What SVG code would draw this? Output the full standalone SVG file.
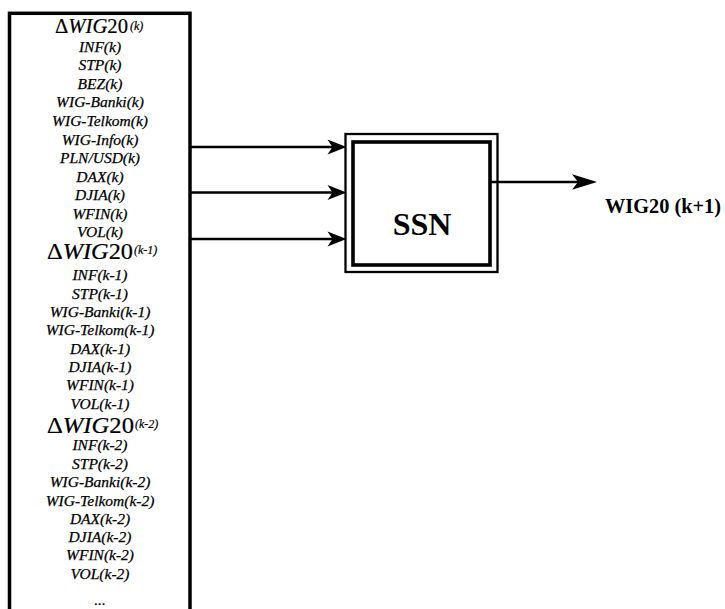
<svg xmlns="http://www.w3.org/2000/svg" width="725" height="609" viewBox="0 0 725 609">
<style>
.v{font-family:"Liberation Serif","Times New Roman",serif;font-style:italic;font-size:15.5px;fill:#000;stroke:#000;stroke-width:0.25;text-anchor:middle}
.d{font-family:"Liberation Serif","Times New Roman",serif;fill:#000;stroke:#000;stroke-width:0.2}
.i{font-style:italic}
.sup{font-family:"Liberation Serif","Times New Roman",serif;font-style:italic;fill:#000;stroke:#000;stroke-width:0.2}
.b{font-family:"Liberation Serif","Times New Roman",serif;font-weight:bold;fill:#000}
.ln{stroke:#000;stroke-width:2.6;fill:none}
.ah{fill:#000;stroke:none}
</style>
<rect width="725" height="609" fill="#fff"/>
<g id="inputs">
<rect x="9.5" y="13.3" width="180.5" height="640" fill="#fff" stroke="#000" stroke-width="3.5"/>
<text class="d" x="55" y="33" font-size="20" textLength="73" lengthAdjust="spacingAndGlyphs">Δ<tspan class="i">WIG</tspan>20</text>
<text class="sup" x="130" y="30" font-size="12">(k)</text>
<text class="v" x="100" y="51.7">INF(k)</text>
<text class="v" x="100" y="70">STP(k)</text>
<text class="v" x="100" y="88.5">BEZ(k)</text>
<text class="v" x="100" y="107">WIG-Banki(k)</text>
<text class="v" x="100" y="126">WIG-Telkom(k)</text>
<text class="v" x="100" y="145">WIG-Info(k)</text>
<text class="v" x="100" y="163">PLN/USD(k)</text>
<text class="v" x="100" y="181.5">DAX(k)</text>
<text class="v" x="100" y="200">DJIA(k)</text>
<text class="v" x="100" y="218.5">WFIN(k)</text>
<text class="v" x="100" y="237">VOL(k)</text>
<text class="d" x="47" y="259" font-size="23" textLength="86" lengthAdjust="spacingAndGlyphs">Δ<tspan class="i">WIG</tspan>20</text>
<text class="sup" x="134" y="254" font-size="12">(k-1)</text>
<text class="v" x="100" y="280">INF(k-1)</text>
<text class="v" x="100" y="298.5">STP(k-1)</text>
<text class="v" x="100" y="316.5">WIG-Banki(k-1)</text>
<text class="v" x="100" y="335">WIG-Telkom(k-1)</text>
<text class="v" x="100" y="354">DAX(k-1)</text>
<text class="v" x="100" y="372">DJIA(k-1)</text>
<text class="v" x="100" y="390">WFIN(k-1)</text>
<text class="v" x="100" y="408.5">VOL(k-1)</text>
<text class="d" x="47" y="433" font-size="23" textLength="87" lengthAdjust="spacingAndGlyphs">Δ<tspan class="i">WIG</tspan>20</text>
<text class="sup" x="135" y="428" font-size="12">(k-2)</text>
<text class="v" x="100" y="450">INF(k-2)</text>
<text class="v" x="100" y="468.5">STP(k-2)</text>
<text class="v" x="100" y="487">WIG-Banki(k-2)</text>
<text class="v" x="100" y="505.5">WIG-Telkom(k-2)</text>
<text class="v" x="100" y="524">DAX(k-2)</text>
<text class="v" x="100" y="542">DJIA(k-2)</text>
<text class="v" x="100" y="560">WFIN(k-2)</text>
<text class="v" x="100" y="578.5">VOL(k-2)</text>
<text class="v" x="100" y="605" font-style="normal">...</text>
</g>
<g id="ssn">
<rect x="345.5" y="134" width="152" height="138" fill="#fff" stroke="#000" stroke-width="2.3"/>
<rect x="353" y="142" width="137" height="123" fill="#fff" stroke="#000" stroke-width="3.6"/>
<text class="b" x="422" y="235" font-size="32" text-anchor="middle">SSN</text>
</g>
<g id="output">
<text class="b" x="605" y="213" font-size="20" textLength="116" lengthAdjust="spacingAndGlyphs">WIG20 (k+1)</text>
</g>
<g id="connectors">
<line class="ln" x1="190" y1="147" x2="335" y2="147"/>
<path class="ah" d="M346.5,147 L327.5,139.5 L332.5,147 L327.5,154.5 Z"/>
<line class="ln" x1="190" y1="192.5" x2="335" y2="192.5"/>
<path class="ah" d="M346.5,192.5 L327.5,185 L332.5,192.5 L327.5,200 Z"/>
<line class="ln" x1="190" y1="239" x2="335" y2="239"/>
<path class="ah" d="M346.5,239 L327.5,231.5 L332.5,239 L327.5,246.5 Z"/>
<line class="ln" x1="489" y1="182" x2="585" y2="182"/>
<path class="ah" d="M597,182 L572,174.3 L578,182 L572,189.7 Z"/>
</g>
</svg>
